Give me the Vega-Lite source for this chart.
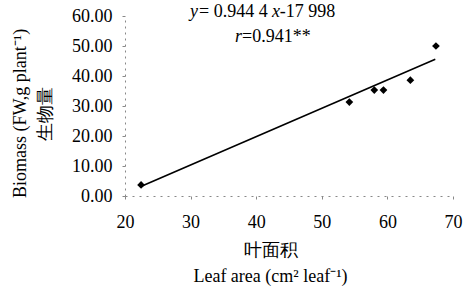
{
  "$schema": "https://vega.github.io/schema/vega-lite/v6.json",
  "width": 328,
  "height": 180,
  "autosize": {"type": "none"},
  "padding": {"left": 125, "top": 16, "right": 10, "bottom": 95},
  "background": "white",
  "config": {
    "view": {"stroke": null},
    "font": "Liberation Serif",
    "axis": {"grid": false, "labelFont": "Liberation Serif", "titleFont": "Liberation Serif", "labelColor": "black", "titleColor": "black", "labelFontSize": 18, "titleFontSize": 18, "titleFontWeight": "normal", "labelOverlap": false, "labelFlush": false}
  },
  "datasets": {
    "pts": [
      {"area": 22.45, "biomass": 3.7},
      {"area": 54.2, "biomass": 31.3},
      {"area": 58.0, "biomass": 35.3},
      {"area": 59.4, "biomass": 35.3},
      {"area": 63.5, "biomass": 38.6},
      {"area": 67.4, "biomass": 50.0}
    ],
    "fit": [
      {"area": 22.5, "biomass": 3.25},
      {"area": 67.3, "biomass": 45.56}
    ],
    "italic": [
      {"area": 29.91, "biomass": 61.3, "label": "y"},
      {"area": 42.4, "biomass": 61.3, "label": "x"},
      {"area": 36.77, "biomass": 53, "label": "r"}
    ],
    "plain": [
      {"area": 31.28, "biomass": 61.3, "label": "= 0.944 4"},
      {"area": 43.6, "biomass": 61.3, "label": "-17 998"},
      {"area": 37.84, "biomass": 53, "label": "=0.941**"}
    ]
  },
  "encoding": {
    "x": {"field": "area", "type": "quantitative", "scale": {"domain": [20, 70]},
      "axis": {"values": [20, 30, 40, 50, 60, 70], "domainColor": "#888", "domainDash": [2, 5], "tickColor": "#888", "tickSize": 3, "labelPadding": 14,
        "title": ["叶面积", "Leaf area (cm² leaf⁻¹)"], "titleLineHeight": 26, "titleX": 145, "titleY": 54, "titleBaseline": "middle", "titleAlign": "center"}},
    "y": {"field": "biomass", "type": "quantitative", "scale": {"domain": [0, 60]},
      "axis": {"values": [0, 10, 20, 30, 40, 50, 60], "format": ".2f", "domainColor": "#888", "domainDash": [2, 4], "tickColor": "#888", "tickSize": 3, "labelPadding": 10,
        "title": ["Biomass (FW,g plant⁻¹)", "生物量"], "titleLineHeight": 25, "titleAngle": -90, "titleX": -105, "titleY": 97, "titleBaseline": "middle", "titleAlign": "center"}}
  },
  "layer": [
    {
      "data": {"name": "fit"},
      "mark": {"type": "line", "color": "black", "strokeWidth": 1.6}
    },
    {
      "data": {"name": "pts"},
      "mark": {"type": "point", "shape": "diamond", "filled": true, "color": "black", "size": 60, "opacity": 1}
    },
    {
      "data": {"name": "italic"},
      "mark": {"type": "text", "font": "Liberation Serif", "fontSize": 18, "fontStyle": "italic", "color": "black", "align": "left", "baseline": "middle"},
      "encoding": {"text": {"field": "label"}}
    },
    {
      "data": {"name": "plain"},
      "mark": {"type": "text", "font": "Liberation Serif", "fontSize": 18, "color": "black", "align": "left", "baseline": "middle"},
      "encoding": {"text": {"field": "label"}}
    }
  ]
}
